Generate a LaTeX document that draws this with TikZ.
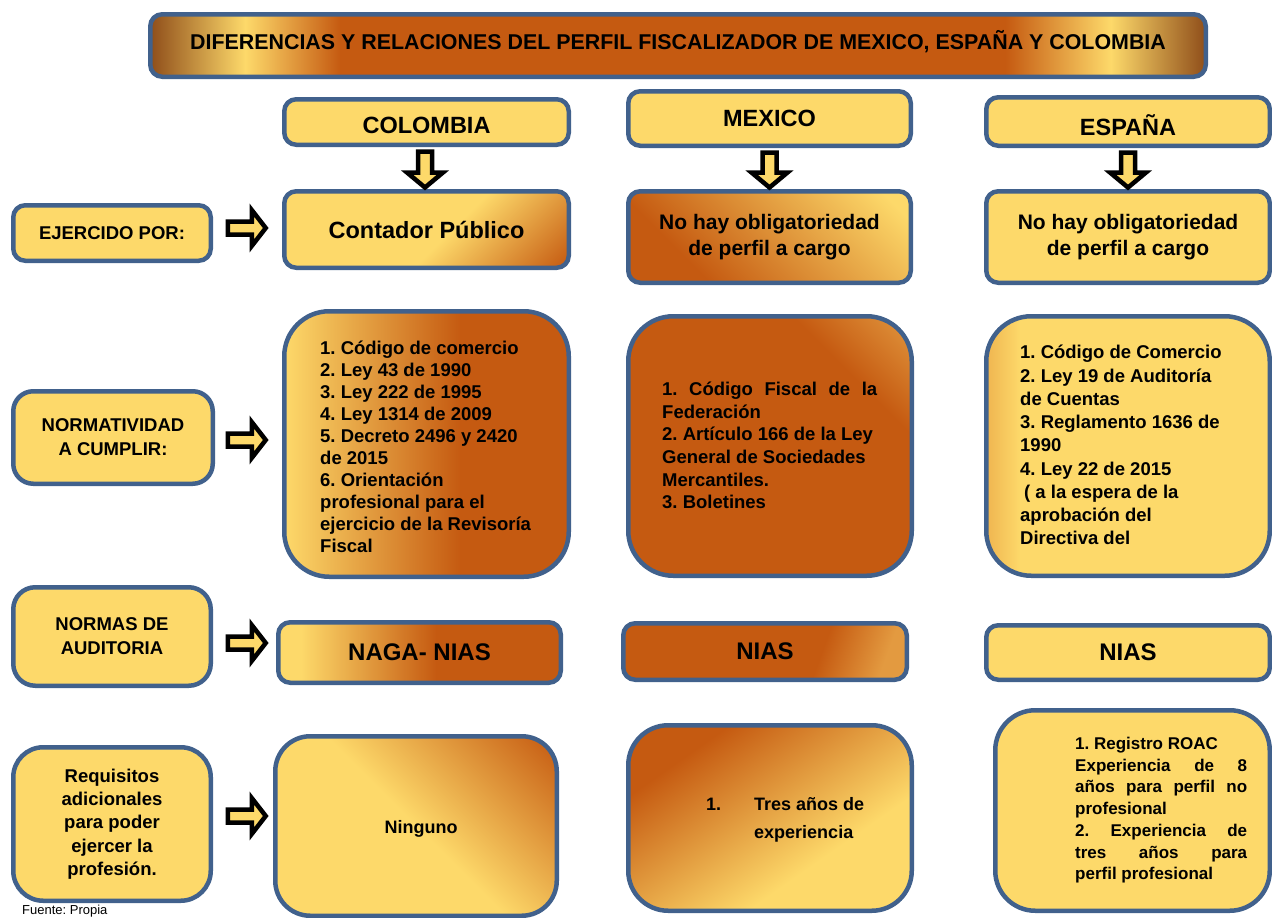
\documentclass[tikz,border=0pt]{standalone}
\usepackage{fontspec}
\setmainfont{Liberation Sans}
\usetikzlibrary{calc}
\definecolor{bord}{HTML}{41618C}
\definecolor{yel}{HTML}{FDD96A}
\definecolor{org}{HTML}{C55A11}
\definecolor{lorg}{HTML}{E39A40}
\definecolor{brn}{HTML}{8F4E1A}
\definecolor{dyel}{HTML}{EFB550}
\pgfdeclarehorizontalshading{titleshade}{100bp}{color(0bp)=(brn); color(25bp)=(brn); color(29.5bp)=(yel); color(34bp)=(org); color(65.5bp)=(org); color(70.5bp)=(yel); color(75bp)=(brn); color(100bp)=(brn)}
\pgfdeclarehorizontalshading{contshade}{100bp}{color(0bp)=(yel); color(55bp)=(yel); color(85bp)=(org); color(100bp)=(org)}
\pgfdeclarehorizontalshading{oyshade}{100bp}{color(0bp)=(org); color(30bp)=(org); color(80bp)=(yel); color(100bp)=(yel)}
\pgfdeclarehorizontalshading{colshade}{100bp}{color(0bp)=(yel); color(25bp)=(yel); color(56bp)=(org); color(100bp)=(org)}
\pgfdeclarehorizontalshading{mexlshade}{100bp}{color(0bp)=(org); color(70bp)=(org); color(86bp)=(lorg); color(100bp)=(lorg)}
\pgfdeclarehorizontalshading{nagashade}{100bp}{color(0bp)=(yel); color(29bp)=(yel); color(53bp)=(org); color(100bp)=(org)}
\pgfdeclarehorizontalshading{niasshade}{100bp}{color(0bp)=(org); color(62bp)=(org); color(76bp)=(lorg); color(100bp)=(lorg)}
\pgfdeclarehorizontalshading{ningshade}{100bp}{color(0bp)=(yel); color(50bp)=(yel); color(85bp)=(org); color(100bp)=(org)}
\pgfdeclarehorizontalshading{tresshade}{100bp}{color(0bp)=(org); color(28bp)=(org); color(64bp)=(yel); color(100bp)=(yel)}
\pgfdeclarehorizontalshading{espshade}{100bp}{color(0bp)=(dyel); color(25bp)=(dyel); color(31bp)=(yel); color(100bp)=(yel)}
\newcommand\fsz[2]{\fontsize{#1}{#2}\selectfont}
\newcommand\harr[2]{\draw[blockarrow] ($(#1)+(0,-6.5)$) -- ($(#2)+(-14,-6.5)$) -- ($(#2)+(-14,-18)$) -- (#2) -- ($(#2)+(-14,18)$) -- ($(#2)+(-14,6.5)$) -- ($(#1)+(0,6.5)$) -- cycle;}
\newcommand\varr[2]{\draw[blockarrow] ($(#1)+(-7,0)$) -- ($(#2)+(-7,-15)$) -- ($(#2)+(-18,-15)$) -- (#2) -- ($(#2)+(18,-15)$) -- ($(#2)+(7,-15)$) -- ($(#1)+(7,0)$) -- cycle;}
\frenchspacing
\begin{document}
\frenchspacing
\begin{tikzpicture}[x=1pt,y=-1pt,
  box/.style={draw=bord, line width=4.5pt, rounded corners=12pt, inner sep=0pt, align=center, font=\bfseries},
  yelbox/.style={box, fill=yel},
  blockarrow/.style={draw=black, fill=yel, line width=4.5pt, line join=miter},
  txt/.style={inner sep=0pt, align=center},
  listtxt/.style={inner sep=0pt, align=left, anchor=north west}]
\useasboundingbox (0,0) rectangle (1272,918);
\fill[white] (0,0) rectangle (1272,918);

% title
\node[box, shade, shading=titleshade, minimum width=1055.5pt, minimum height=62.5pt] (title) at (678,45.5) {};
\node[txt, font=\bfseries\fsz{21.4}{25}] (titleT) at (678,42) {DIFERENCIAS Y RELACIONES DEL PERFIL FISCALIZADOR DE MEXICO, ESPAÑA Y COLOMBIA};

% headers
\node[yelbox, minimum width=284.5pt, minimum height=45.5pt] (colH) at (426.5,122) {};
\node[txt, font=\bfseries\fsz{23.5}{28}] (colHT) at (426.5,125) {COLOMBIA};
\node[yelbox, minimum width=282.5pt, minimum height=54.5pt, font=\bfseries\fsz{23.5}{28}] (mexH) at (769.5,118.5) {MEXICO};
\node[yelbox, minimum width=283.5pt, minimum height=48.5pt] (espH) at (1128,121.5) {};
\node[txt, font=\bfseries\fsz{23.5}{28}] (espHT) at (1128,125) {ESPAÑA};

% row 1
\node[yelbox, minimum width=197.5pt, minimum height=55.5pt, font=\bfseries\fsz{18.5}{22}] (ejer) at (112,233) {EJERCIDO POR:};
\node[box, shade, shading=contshade, shading angle=-45, minimum width=284.5pt, minimum height=76.5pt, font=\bfseries\fsz{23.5}{28}] (cont) at (426.5,229.5) {Contador Público};
\node[box, shade, shading=oyshade, shading angle=45, minimum width=282.5pt, minimum height=91.5pt, font=\bfseries\fsz{21}{26}] (mexNo) at (769.5,237) {No hay obligatoriedad\\de perfil a cargo};
\node[yelbox, minimum width=283.5pt, minimum height=91.5pt, font=\bfseries\fsz{21}{26}] (espNo) at (1128,237) {No hay obligatoriedad\\de perfil a cargo};

% row 2
\node[yelbox, rounded corners=20pt, minimum width=199.5pt, minimum height=92.5pt, font=\bfseries\fsz{18.5}{24}] (norm) at (113,437.5) {NORMATIVIDAD\\A CUMPLIR:};
\node[box, rounded corners=45pt, shade, shading=colshade, minimum width=284.5pt, minimum height=265.5pt] (colL) at (426.5,444) {};
\node[listtxt, font=\bfseries\fsz{18.5}{22}] (colLT) at (320,341) {1. Código de comercio\\2. Ley 43 de 1990\\3. Ley 222 de 1995\\4. Ley 1314 de 2009\\5. Decreto 2496 y 2420\\de 2015\\6. Orientación\\profesional para el\\ejercicio de la Revisoría\\Fiscal};
\node[box, rounded corners=45pt, shade, shading=mexlshade, shading angle=45, minimum width=283.5pt, minimum height=259.5pt] (mexL) at (770,446) {};
\node[listtxt, font=\bfseries\fsz{18.5}{22.6}] (mexLT) at (662,382) {\makebox[215pt][s]{1. Código Fiscal de la}\\Federación\\2. Artículo 166 de la Ley\\General de Sociedades\\Mercantiles.\\3. Boletines};
\node[box, rounded corners=45pt, shade, shading=espshade, minimum width=283.5pt, minimum height=259.5pt] (espL) at (1128,446) {};
\node[listtxt, font=\bfseries\fsz{18.5}{23.25}] (espLT) at (1020,345) {1. Código de Comercio\\2. Ley 19 de Auditoría\\de Cuentas\\3. Reglamento 1636 de\\1990\\4. Ley 22 de 2015\\\hspace*{4pt}( a la espera de la\\aprobación del\\Directiva del};

% row 3
\node[yelbox, rounded corners=22pt, minimum width=197.5pt, minimum height=98.5pt, font=\bfseries\fsz{18.5}{24}] (normas) at (112,636.5) {NORMAS DE\\AUDITORIA};
\node[box, shade, shading=nagashade, minimum width=282.5pt, minimum height=60.5pt, font=\bfseries\fsz{24}{28}] (naga) at (419.5,652.5) {NAGA- NIAS};
\node[box, shade, shading=niasshade, shading angle=-20, minimum width=283.5pt, minimum height=56.5pt, font=\bfseries\fsz{24}{28}] (nias1) at (765,651.5) {NIAS};
\node[yelbox, minimum width=283.5pt, minimum height=54.5pt, font=\bfseries\fsz{24}{28}] (nias2) at (1128,652.5) {NIAS};

% row 4
\node[yelbox, rounded corners=30pt, minimum width=197.5pt, minimum height=153.5pt, font=\bfseries\fsz{18.5}{23.3}] (req) at (112,824) {Requisitos\\adicionales\\para poder\\ejercer la\\profesión.};
\node[box, rounded corners=35pt, shade, shading=ningshade, shading angle=45, minimum width=281.5pt, minimum height=179.5pt] (ning) at (416,826) {};
\node[txt, font=\bfseries\fsz{18}{22}] (ningT) at (421,829) {Ninguno};
\node[box, rounded corners=40pt, shade, shading=tresshade, shading angle=-55, minimum width=283.5pt, minimum height=185.5pt] (tres) at (770,818) {};
\node[txt, font=\bfseries\fsz{18}{28}, anchor=west] (tres1) at (706,804) {1.};
\node[listtxt, font=\bfseries\fsz{18}{28}] (tresT) at (754,797) {Tres años de\\experiencia};
\node[yelbox, rounded corners=40pt, minimum width=274.5pt, minimum height=200.5pt] (espR) at (1132.5,810.5) {};
\node[listtxt, font=\bfseries\fsz{17}{21.7}] (espRT) at (1075,737) {1. Registro ROAC\\\makebox[172pt][s]{Experiencia de 8}\\\makebox[172pt][s]{años para perfil no}\\profesional\\\makebox[172pt][s]{2. Experiencia de}\\\makebox[172pt][s]{tres años para}\\perfil profesional};

\node[inner sep=0pt, anchor=north west, font=\fsz{13}{15}] (fuente) at (22,905) {Fuente: Propia};

% arrows
\coordinate (a1s) at ($(ejer.east)+(14.75,-5)$); \coordinate (a1e) at ($(a1s)+(38,0)$);
\coordinate (a2s) at ($(norm.east)+(12.75,2.5)$); \coordinate (a2e) at ($(a2s)+(38,0)$);
\coordinate (a3s) at ($(normas.east)+(14.75,6.5)$); \coordinate (a3e) at ($(a3s)+(38,0)$);
\coordinate (a4s) at ($(req.east)+(14.75,-8)$); \coordinate (a4e) at ($(a4s)+(38,0)$);
\harr{a1s}{a1e}
\harr{a2s}{a2e}
\harr{a3s}{a3e}
\harr{a4s}{a4e}
\coordinate (v1s) at ($(colH.south)+(-1.5,4.5)$);
\coordinate (v1e) at ($(cont.north)+(-1.5,-1.5)$);
\coordinate (v2s) at ($(mexH.south)+(0,4.5)$);
\coordinate (v2e) at ($(mexNo.north)+(0,-1.5)$);
\coordinate (v3s) at ($(espH.south)+(0,4.5)$);
\coordinate (v3e) at ($(espNo.north)+(0,-1.5)$);
\varr{v1s}{v1e}
\varr{v2s}{v2e}
\varr{v3s}{v3e}
\end{tikzpicture}
\end{document}
